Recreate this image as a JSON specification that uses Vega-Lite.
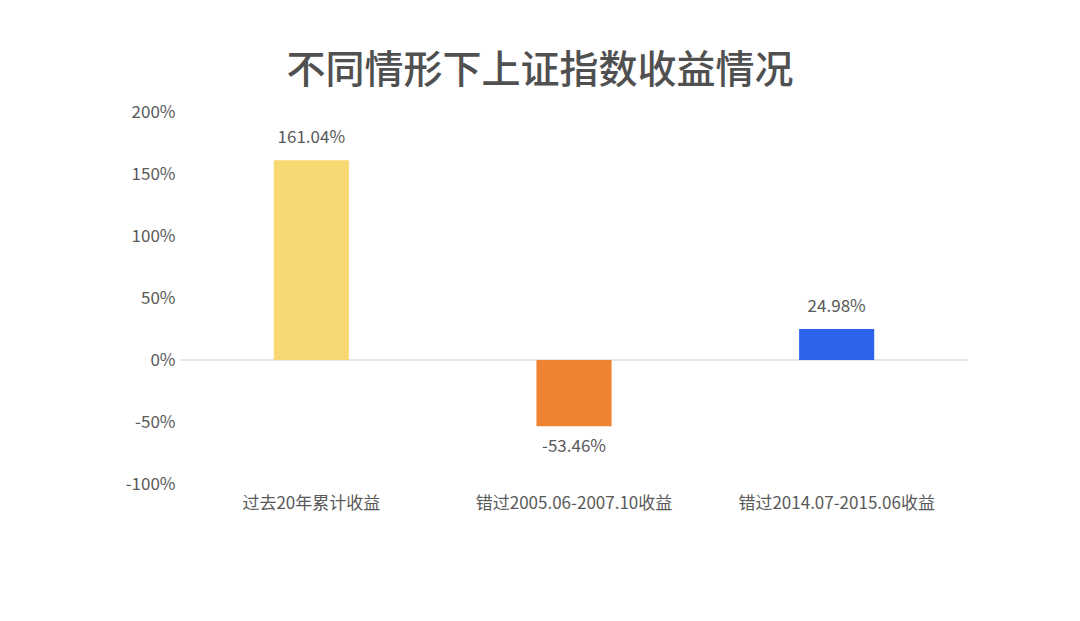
{
  "$schema": "https://vega.github.io/schema/vega-lite/v6.json",
  "autosize": {"type": "none"},
  "width": 788,
  "height": 372,
  "padding": {"left": 180, "top": 112, "right": 112, "bottom": 137},
  "background": "white",
  "title": {
    "text": "不同情形下上证指数收益情况",
    "anchor": "middle",
    "dx": -34,
    "offset": 12,
    "font": "Noto Sans CJK SC",
    "fontSize": 39,
    "fontWeight": 500,
    "color": "#505050"
  },
  "data": {
    "values": [
      {"case": "过去20年累计收益", "ret": 161.04},
      {"case": "错过2005.06-2007.10收益", "ret": -53.46},
      {"case": "错过2014.07-2015.06收益", "ret": 24.98}
    ]
  },
  "transform": [
    {"calculate": "toString(datum.ret) + '%'", "as": "label"}
  ],
  "encoding": {
    "x": {
      "field": "case",
      "type": "nominal",
      "sort": null,
      "title": null,
      "scale": {"paddingInner": 0.714, "paddingOuter": 0.357},
      "axis": {
        "labelAngle": 0,
        "labelLimit": 0,
        "ticks": false,
        "domain": false,
        "labelPadding": 11,
        "labelFont": "Noto Sans CJK SC",
        "labelFontSize": 17,
        "labelColor": "#595959"
      }
    }
  },
  "layer": [
    {
      "mark": {"type": "rule", "color": "#e3e6eb", "strokeWidth": 2},
      "encoding": {"y": {"datum": 0}, "x": null}
    },
    {
      "mark": {"type": "bar"},
      "encoding": {
        "y": {
          "field": "ret",
          "type": "quantitative",
          "title": null,
          "scale": {"domain": [-100, 200], "nice": false},
          "axis": {
            "values": [-100, -50, 0, 50, 100, 150, 200],
            "labelExpr": "datum.value + '%'",
            "grid": false,
            "ticks": false,
            "domain": false,
            "labelPadding": 5,
            "labelFont": "Noto Sans CJK SC",
            "labelFontSize": 17,
            "labelColor": "#595959"
          }
        },
        "color": {
          "field": "case",
          "type": "nominal",
          "sort": null,
          "legend": null,
          "scale": {"range": ["#f7d872", "#ee8431", "#2d63ea"]}
        }
      }
    },
    {
      "transform": [{"filter": "datum.ret >= 0"}],
      "mark": {
        "type": "text",
        "font": "Noto Sans CJK SC",
        "fontSize": 17,
        "color": "#595959",
        "baseline": "middle",
        "dy": -22
      },
      "encoding": {
        "y": {"field": "ret", "type": "quantitative"},
        "text": {"field": "label"}
      }
    },
    {
      "transform": [{"filter": "datum.ret < 0"}],
      "mark": {
        "type": "text",
        "font": "Noto Sans CJK SC",
        "fontSize": 17,
        "color": "#595959",
        "baseline": "middle",
        "dy": 21
      },
      "encoding": {
        "y": {"field": "ret", "type": "quantitative"},
        "text": {"field": "label"}
      }
    }
  ],
  "config": {
    "view": {"stroke": null}
  }
}
